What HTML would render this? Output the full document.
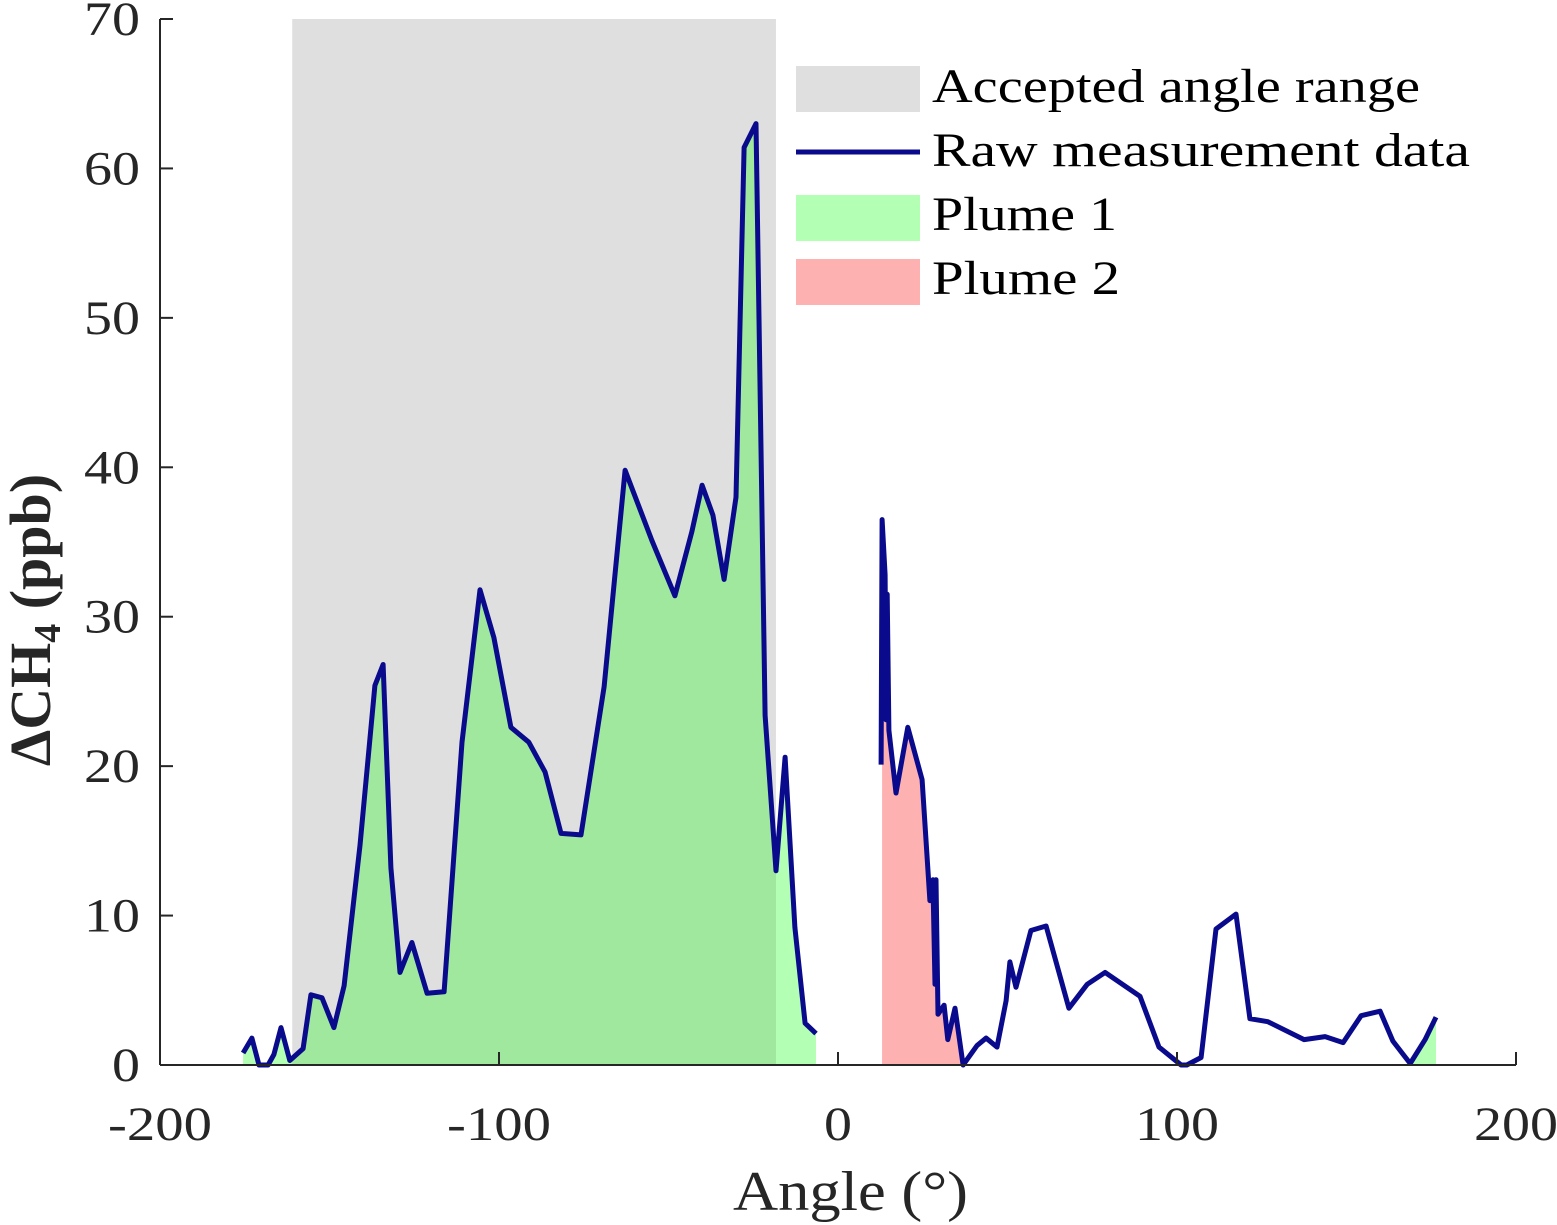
<!DOCTYPE html>
<html><head><meta charset="utf-8"><style>
html,body{margin:0;padding:0;background:#fff;}
svg{display:block;font-family:"Liberation Serif",serif;}
</style></head><body>
<svg id="chart" width="1557" height="1225" viewBox="0 0 1557 1225" xmlns="http://www.w3.org/2000/svg">
<defs><clipPath id="grayclip"><rect id="gcr" x="0" y="0" width="0" height="1225"/></clipPath></defs>
<g id="plot"></g>
</svg>
<script>
const xTicks=[-200,-100,0,100,200];
const yTicks=[0,10,20,30,40,50,60,70];
const acceptedRange=[-161,-18.3];
const plume1X=[-175.5,-172.9,-170.8,-168.1,-166.4,-164.3,-161.7,-157.8,-155.5,-152.2,-148.7,-145.7,-141.0,-136.6,-134.2,-131.9,-129.2,-125.7,-121.2,-116.2,-110.9,-105.6,-101.5,-96.5,-91.2,-86.4,-81.7,-75.8,-69.0,-62.8,-54.9,-48.1,-43.1,-40.1,-36.9,-33.6,-30.1,-27.7,-24.2,-21.5,-18.3,-15.6,-12.7,-9.7,-6.5];
const plume1Y=[0.8,1.8,0,0,0.7,2.5,0.3,1.1,4.7,4.5,2.5,5.3,14.7,25.4,26.8,13.2,6.2,8.2,4.8,4.9,21.6,31.8,28.6,22.6,21.6,19.6,15.5,15.4,25.3,39.8,35.1,31.4,35.7,38.8,36.8,32.5,38.0,61.4,63.0,23.4,13.0,20.6,9.2,2.8,2.1];
const plume2X=[12.7,13.0,13.9,14.2,14.5,15.0,17.1,20.6,24.8,27.1,28.0,28.6,28.9,29.5,31.3,32.4,34.5,36.9];
const plume2Y=[20.1,36.5,32.8,23.1,31.5,22.4,18.2,22.6,19.1,11.0,12.4,5.4,12.4,3.4,4.0,1.7,3.8,0];
const restX=[41.0,43.7,46.9,49.6,50.7,52.5,56.9,61.4,68.1,73.5,78.8,89.1,94.7,101.2,102.9,107.1,111.5,117.4,121.5,126.8,137.5,143.7,149.0,154.3,159.9,163.7,168.8,173.2,176.4];
const restY=[1.3,1.8,1.2,4.3,6.9,5.2,9.0,9.3,3.8,5.4,6.2,4.6,1.2,0,0,0.5,9.1,10.1,3.1,2.9,1.7,1.9,1.5,3.3,3.6,1.6,0.1,1.7,3.2];
const plume1bX=[168.8,173.2,176.4];
const plume1bY=[0.1,1.7,3.2];

const X0=160,X1=1516,Y0=1065,Y1=19;
const sx=v=>X0+(v+200)/400*(X1-X0);
const sy=v=>Y0-v/70*(Y0-Y1);
const NS="http://www.w3.org/2000/svg";
const g=document.getElementById('plot');
function mk(t,a,p){const e=document.createElementNS(NS,t);for(const k in a)e.setAttribute(k,a[k]);(p||g).appendChild(e);return e;}
function linePts(xs,ys){return xs.map((x,i)=>sx(x).toFixed(1)+','+sy(ys[i]).toFixed(1)).join(' ');}
function areaPts(xs,ys){return sx(xs[0])+','+sy(0)+' '+linePts(xs,ys)+' '+sx(xs[xs.length-1])+','+sy(0);}

let r=mk('rect',{x:sx(acceptedRange[0]),y:Y1,width:sx(acceptedRange[1])-sx(acceptedRange[0]),height:Y0-Y1,fill:'#dfdfdf'});

document.getElementById('gcr').setAttribute('x',sx(acceptedRange[0]));
document.getElementById('gcr').setAttribute('width',sx(acceptedRange[1])-sx(acceptedRange[0]));

let a=mk('polygon',{points:areaPts(plume1X,plume1Y),fill:'#b3ffb3'});

let a2=mk('polygon',{points:areaPts(plume1X,plume1Y),fill:'#a0e89e','clip-path':'url(#grayclip)'});

let a3=mk('polygon',{points:areaPts(plume1bX,plume1bY),fill:'#b3ffb3'});

let a4=mk('polygon',{points:areaPts(plume2X.slice(1),plume2Y.slice(1)),fill:'#fdb1b1'});


const lineStyle={fill:'none',stroke:'#0a0a8c','stroke-width':5,'stroke-linejoin':'round'};
let l1=mk('polyline',Object.assign({points:linePts(plume1X,plume1Y)},lineStyle));

let l2=mk('polyline',Object.assign({points:linePts(plume2X.concat(restX),plume2Y.concat(restY))},lineStyle));


let ax=mk('line',{x1:X0,y1:Y0,x2:X1,y2:Y0,stroke:'#262626','stroke-width':2});

let ay=mk('line',{x1:X0,y1:Y0,x2:X0,y2:Y1,stroke:'#262626','stroke-width':2});

xTicks.forEach(v=>{
  const t=mk('line',{x1:sx(v),y1:Y0,x2:sx(v),y2:Y0-13,stroke:'#262626','stroke-width':2});
  
  const s=String(v);
  const w=(s.startsWith('-')?20:0)+(s.replace('-','').length)*28;
  const tx=mk('text',{x:sx(v),y:1140,'text-anchor':'middle','font-size':48,fill:'#262626',textLength:w,lengthAdjust:'spacingAndGlyphs'});
  tx.textContent=s;
  
});
yTicks.forEach(v=>{
  const t=mk('line',{x1:X0,y1:sy(v),x2:X0+13,y2:sy(v),stroke:'#262626','stroke-width':2});
  
  const s=String(v);
  const tx=mk('text',{x:140,y:sy(v)+16,'text-anchor':'end','font-size':48,fill:'#262626',textLength:s.length*28,lengthAdjust:'spacingAndGlyphs'});
  tx.textContent=s;
  
});
</script>
<svg style="position:absolute;left:0;top:0" width="1557" height="1225">
<text x="733" y="1210" font-size="56" fill="#262626" font-family="Liberation Serif, serif" textLength="235" lengthAdjust="spacingAndGlyphs">Angle (°)</text>
<text transform="translate(50,620) rotate(-90)" text-anchor="middle" font-size="58" font-weight="bold" fill="#262626" font-family="Liberation Serif, serif">ΔCH<tspan font-size="38" dy="10">4</tspan><tspan dy="-10"> (ppb)</tspan></text>
<g font-family="Liberation Serif, serif" font-size="48" fill="#000">
<rect x="796" y="66" width="124" height="46" fill="#dfdfdf"/>
<text x="932" y="102" textLength="488" lengthAdjust="spacingAndGlyphs">Accepted angle range</text>
<line x1="796" y1="152" x2="920" y2="152" stroke="#0a0a8c" stroke-width="5"/>
<text x="932" y="166" textLength="538" lengthAdjust="spacingAndGlyphs">Raw measurement data</text>
<rect x="796" y="195" width="124" height="46" fill="#b3ffb3"/>
<text x="932" y="230" textLength="185" lengthAdjust="spacingAndGlyphs">Plume 1</text>
<rect x="796" y="259" width="124" height="46" fill="#fdb1b1"/>
<text x="932" y="294" textLength="188" lengthAdjust="spacingAndGlyphs">Plume 2</text>
</g>
</svg>
</body></html>
